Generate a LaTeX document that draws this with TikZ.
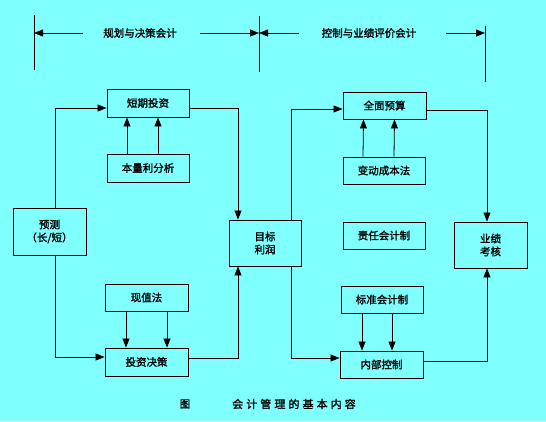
\documentclass[tikz,border=0pt]{standalone}
\usepackage{fontspec}
\newfontfamily\cjk[FakeBold=1.6]{Noto Sans CJK SC}
\usetikzlibrary{arrows.meta}
\definecolor{bg}{RGB}{128,255,255}
\tikzset{
  box/.style={draw, line width=0.9pt, inner sep=0pt, font=\cjk\fontsize{10.5}{13}\selectfont, align=center},
  arr/.style={line width=0.8pt, -{Triangle[length=9pt,width=7pt]}},
  ln/.style={line width=0.8pt},
  lbl/.style={inner sep=0pt, font=\cjk\fontsize{10.5}{13}\selectfont}
}
\begin{document}
\begin{tikzpicture}[x=1pt,y=-1pt]
\fill[bg] (0,0) rectangle (546,421);
\useasboundingbox (0,0) rectangle (546,421);
% top dimension lines
\coordinate (v1a) at (34,15); \coordinate (v1b) at (34,70);
\coordinate (v2a) at (259,16); \coordinate (v2b) at (259,72);
\coordinate (v3a) at (485,26); \coordinate (v3b) at (485,82);
\draw[ln] (v1a) -- (v1b);
\draw[ln] (v2a) -- (v2b);
\draw[ln] (v3a) -- (v3b);
\node[lbl] (t1) at (140,33) {规划与决策会计};
\node[lbl] (t2) at (369,33) {控制与业绩评价会计};
\coordinate (a1s) at (83,33); \coordinate (a1e) at (34,33);
\coordinate (a2s) at (200,33); \coordinate (a2e) at (259,33);
\coordinate (a3s) at (299,33); \coordinate (a3e) at (259,33);
\coordinate (a4s) at (446,33); \coordinate (a4e) at (485,33);
\draw[arr] (a1s) -- (a1e);
\draw[arr] (a2s) -- (a2e);
\draw[arr] (a3s) -- (a3e);
\draw[arr] (a4s) -- (a4e);
% boxes
\node[box, minimum width=82pt, minimum height=28pt] (dq) at (148,103) {短期投资};
\node[box, minimum width=82pt, minimum height=28pt] (blf) at (148,168) {本量利分析};
\node[box, minimum width=73pt, minimum height=47pt] (yc) at (49.5,231.5) {预测\\（长/短）};
\node[box, minimum width=83pt, minimum height=27pt] (xzf) at (146.5,297.5) {现值法};
\node[box, minimum width=83pt, minimum height=28pt] (tz) at (146.5,362) {投资决策};
\node[box, minimum width=72pt, minimum height=46pt] (mb) at (265,243) {目标\\利润};
\node[box, minimum width=83pt, minimum height=27pt] (qm) at (384.5,105.5) {全面预算};
\node[box, minimum width=82pt, minimum height=27pt] (bd) at (384,170.5) {变动成本法};
\node[box, minimum width=82pt, minimum height=27pt] (zr) at (384,235.5) {责任会计制};
\node[box, minimum width=82pt, minimum height=27pt] (bz) at (382,299.5) {标准会计制};
\node[box, minimum width=83pt, minimum height=27pt] (nb) at (381.5,364.5) {内部控制};
\node[box, minimum width=73pt, minimum height=46pt] (yj) at (490.5,245) {业绩\\考核};
% connectors
\draw[arr] ([xshift=5.5pt]yc.north) |- ([yshift=-5pt]dq.west);
\draw[arr] ([xshift=5.5pt]yc.south) |- ([yshift=5pt]tz.west);
\draw[arr] ([yshift=-5pt]dq.east) -| ([xshift=-27pt]mb.north);
\draw[arr] ([yshift=4pt]tz.east) -| ([xshift=-27pt]mb.south);
\draw[arr] ([xshift=-21pt]blf.north) -- ([xshift=-21pt]dq.south);
\draw[arr] ([xshift=10pt]blf.north) -- ([xshift=10pt]dq.south);
\draw[arr] ([xshift=-20.5pt]xzf.south) -- ([xshift=-20.5pt]tz.north);
\draw[arr] ([xshift=20.5pt]xzf.south) -- ([xshift=20.5pt]tz.north);
\draw[arr] ([xshift=26pt]mb.north) |- ([yshift=-3.5pt]qm.west);
\draw[arr] ([xshift=26pt]mb.south) |- ([yshift=6.5pt]nb.west);
\draw[arr] ([xshift=-21pt]bd.north) -- ([xshift=-21pt]qm.south);
\draw[arr] ([xshift=10pt]bd.north) -- ([xshift=10pt]qm.south);
\draw[arr] ([xshift=-20pt]bz.south) -- ([xshift=-19.5pt]nb.north);
\draw[arr] ([xshift=10pt]bz.south) -- ([xshift=10.5pt]nb.north);
\draw[arr] ([yshift=-4.5pt]qm.east) -| ([xshift=-3.5pt]yj.north);
\draw[arr] ([yshift=3.5pt]nb.east) -| ([xshift=-3.5pt]yj.south);
% caption
\node[lbl] (c1) at (185,404) {图};
\node[lbl, font=\cjk\fontsize{11}{13}\selectfont\addfontfeature{LetterSpace=28}] (c2) at (294,404) {会计管理的基本内容};
\end{tikzpicture}
\end{document}
